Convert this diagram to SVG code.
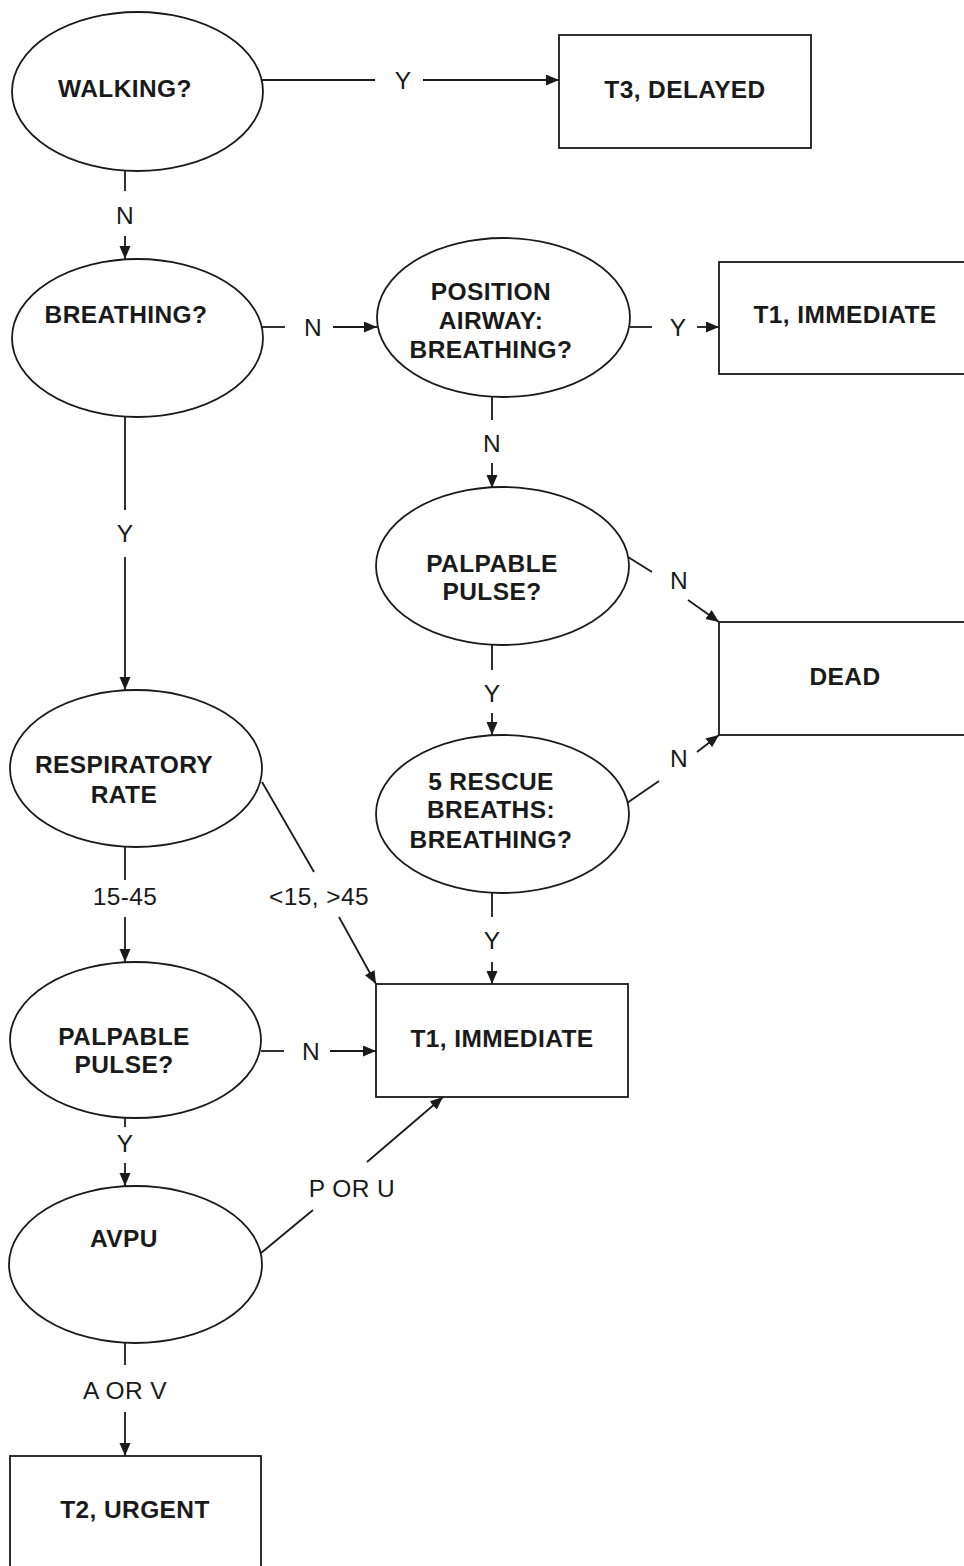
<svg xmlns="http://www.w3.org/2000/svg" width="964" height="1566" viewBox="0 0 964 1566">
  <defs>
    <marker id="arrow" markerUnits="userSpaceOnUse" markerWidth="14" markerHeight="12" refX="13" refY="5.5" orient="auto">
      <path d="M0,0 L13,5.5 L0,11 z" fill="#1a1a1a"/>
    </marker>
    <style>
      .shape { fill: #ffffff; stroke: #1a1a1a; stroke-width: 1.8; }
      .node-text { font-family: "Liberation Sans", Arial, sans-serif; font-weight: bold; font-size: 24.5px; letter-spacing: 0.4px; fill: #1a1a1a; text-anchor: middle; }
      .edge { stroke: #1a1a1a; stroke-width: 1.8; fill: none; }
      .edge-arrow { stroke: #1a1a1a; stroke-width: 1.8; fill: none; marker-end: url(#arrow); }
      .edge-label { font-family: "Liberation Sans", Arial, sans-serif; font-size: 24.5px; letter-spacing: 0.4px; fill: #1a1a1a; text-anchor: middle; }
    </style>
  </defs>
  <rect x="0" y="0" width="964" height="1566" fill="#ffffff"/>

  <!-- connectors -->
  <g id="connectors">
    <!-- walking: yes -->
    <line class="edge" x1="262" y1="80" x2="375" y2="80"/>
    <text class="edge-label" x="403" y="88.5">Y</text>
    <line class="edge-arrow" x1="423" y1="80" x2="559" y2="80"/>
    <!-- walking: no -->
    <line class="edge" x1="125" y1="171" x2="125" y2="191"/>
    <text class="edge-label" x="125" y="223.5">N</text>
    <line class="edge-arrow" x1="125" y1="236" x2="125" y2="259"/>
    <!-- breathing: no -->
    <line class="edge" x1="262" y1="327" x2="285" y2="327"/>
    <text class="edge-label" x="313" y="335.5">N</text>
    <line class="edge-arrow" x1="333" y1="327" x2="377" y2="327"/>
    <!-- position airway: yes -->
    <line class="edge" x1="630" y1="327" x2="652" y2="327"/>
    <text class="edge-label" x="678" y="335.5">Y</text>
    <line class="edge-arrow" x1="697" y1="327" x2="719" y2="327"/>
    <!-- position airway: no -->
    <line class="edge" x1="492" y1="397" x2="492" y2="420"/>
    <text class="edge-label" x="492" y="451.5">N</text>
    <line class="edge-arrow" x1="492" y1="463" x2="492" y2="488"/>
    <!-- palpable pulse (no breathing): no -->
    <line class="edge" x1="628" y1="557" x2="652" y2="572"/>
    <text class="edge-label" x="679" y="588.5">N</text>
    <line class="edge-arrow" x1="688" y1="600" x2="719" y2="622"/>
    <!-- palpable pulse (no breathing): yes -->
    <line class="edge" x1="492" y1="645" x2="492" y2="670"/>
    <text class="edge-label" x="492" y="701.5">Y</text>
    <line class="edge-arrow" x1="492" y1="713" x2="492" y2="735"/>
    <!-- rescue breaths: no -->
    <line class="edge" x1="627" y1="803" x2="659" y2="781"/>
    <text class="edge-label" x="679" y="766.5">N</text>
    <line class="edge-arrow" x1="697" y1="752" x2="719" y2="735"/>
    <!-- rescue breaths: yes -->
    <line class="edge" x1="492" y1="893" x2="492" y2="917"/>
    <text class="edge-label" x="492" y="948.5">Y</text>
    <line class="edge-arrow" x1="492" y1="962" x2="492" y2="984"/>
    <!-- breathing: yes -->
    <line class="edge" x1="125" y1="417" x2="125" y2="510"/>
    <text class="edge-label" x="125" y="541.5">Y</text>
    <line class="edge-arrow" x1="125" y1="557" x2="125" y2="690"/>
    <!-- respiratory rate: 15-45 -->
    <line class="edge" x1="125" y1="847" x2="125" y2="880"/>
    <text class="edge-label" x="125" y="904.5">15-45</text>
    <line class="edge-arrow" x1="125" y1="917" x2="125" y2="962"/>
    <!-- respiratory rate: out of range -->
    <line class="edge" x1="262" y1="782" x2="314" y2="872"/>
    <text class="edge-label" x="319" y="904.5">&lt;15, &gt;45</text>
    <line class="edge-arrow" x1="339" y1="917" x2="376" y2="984"/>
    <!-- palpable pulse: no -->
    <line class="edge" x1="261" y1="1051" x2="284" y2="1051"/>
    <text class="edge-label" x="311" y="1059.5">N</text>
    <line class="edge-arrow" x1="330" y1="1051" x2="376" y2="1051"/>
    <!-- palpable pulse: yes -->
    <line class="edge" x1="125" y1="1118" x2="125" y2="1127"/>
    <text class="edge-label" x="125" y="1151.5">Y</text>
    <line class="edge-arrow" x1="125" y1="1163" x2="125" y2="1186"/>
    <!-- avpu: p or u -->
    <line class="edge" x1="261" y1="1253" x2="313" y2="1210"/>
    <text class="edge-label" x="352" y="1196.5">P OR U</text>
    <line class="edge-arrow" x1="367" y1="1162" x2="443" y2="1097"/>
    <!-- avpu: a or v -->
    <line class="edge" x1="125" y1="1343" x2="125" y2="1365"/>
    <text class="edge-label" x="125" y="1398.5">A OR V</text>
    <line class="edge-arrow" x1="125" y1="1412" x2="125" y2="1456"/>
  </g>

  <!-- decision nodes -->
  <g id="walking">
    <ellipse class="shape" cx="137.5" cy="91.5" rx="125.5" ry="79.5"/>
    <text class="node-text" x="125" y="97">WALKING?</text>
  </g>
  <g id="breathing">
    <ellipse class="shape" cx="137.5" cy="338" rx="125.5" ry="79"/>
    <text class="node-text" x="126" y="323">BREATHING?</text>
  </g>
  <g id="position-airway">
    <ellipse class="shape" cx="503.5" cy="317.5" rx="126.5" ry="79.5"/>
    <text class="node-text" x="491" y="300">POSITION</text>
    <text class="node-text" x="491" y="329">AIRWAY:</text>
    <text class="node-text" x="491" y="358">BREATHING?</text>
  </g>
  <g id="palpable-pulse-airway">
    <ellipse class="shape" cx="502.5" cy="566" rx="126.5" ry="79"/>
    <text class="node-text" x="492" y="572">PALPABLE</text>
    <text class="node-text" x="492" y="600">PULSE?</text>
  </g>
  <g id="rescue-breaths">
    <ellipse class="shape" cx="502.5" cy="814" rx="126.5" ry="79"/>
    <text class="node-text" x="491" y="790">5 RESCUE</text>
    <text class="node-text" x="491" y="818">BREATHS:</text>
    <text class="node-text" x="491" y="848">BREATHING?</text>
  </g>
  <g id="respiratory-rate">
    <ellipse class="shape" cx="136" cy="768.5" rx="126" ry="78.5"/>
    <text class="node-text" x="124" y="773">RESPIRATORY</text>
    <text class="node-text" x="124" y="803">RATE</text>
  </g>
  <g id="palpable-pulse">
    <ellipse class="shape" cx="135.5" cy="1040" rx="125.5" ry="78"/>
    <text class="node-text" x="124" y="1045">PALPABLE</text>
    <text class="node-text" x="124" y="1073">PULSE?</text>
  </g>
  <g id="avpu">
    <ellipse class="shape" cx="135.5" cy="1264.5" rx="126.5" ry="78.5"/>
    <text class="node-text" x="124" y="1247">AVPU</text>
  </g>

  <!-- outcome nodes -->
  <g id="t3-delayed">
    <rect class="shape" x="559" y="35" width="252" height="113"/>
    <text class="node-text" x="685" y="98">T3, DELAYED</text>
  </g>
  <g id="t1-immediate-airway">
    <rect class="shape" x="719" y="262" width="260" height="112"/>
    <text class="node-text" x="845" y="323">T1, IMMEDIATE</text>
  </g>
  <g id="dead">
    <rect class="shape" x="719" y="622" width="260" height="113"/>
    <text class="node-text" x="845" y="685">DEAD</text>
  </g>
  <g id="t1-immediate">
    <rect class="shape" x="376" y="984" width="252" height="113"/>
    <text class="node-text" x="502" y="1047">T1, IMMEDIATE</text>
  </g>
  <g id="t2-urgent">
    <rect class="shape" x="10" y="1456" width="251" height="130"/>
    <text class="node-text" x="135" y="1518">T2, URGENT</text>
  </g>
</svg>
